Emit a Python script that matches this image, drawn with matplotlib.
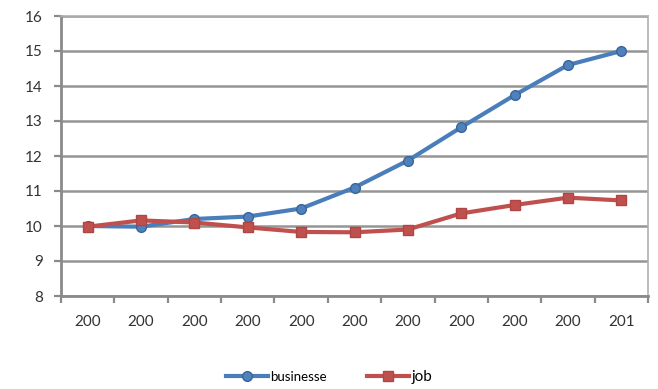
import matplotlib
matplotlib.use('Agg')
import matplotlib.pyplot as plt
import numpy as np

# data
labels = ['200', '200', '200', '200', '200', '200', '200', '200', '200', '200', '201']
businesse = [10.0, 9.98, 10.2, 10.27, 10.5, 11.1, 11.87, 12.82, 13.74, 14.6, 15.0]
job = [9.98, 10.16, 10.1, 9.96, 9.83, 9.82, 9.9, 10.36, 10.6, 10.81, 10.73]

plt.rcParams['font.family'] = ['Lato', 'DejaVu Sans']

fig = plt.figure(figsize=(6.58, 3.89), dpi=100)
ax = fig.add_axes([61/658, 1-296/389, 587/658, 280/389])

x = np.arange(len(labels))
ax.plot(x, businesse, color='#4A7EBB', lw=3, marker='o', ms=7,
        mfc='#4F81BD', mec='#3A6598', label='businesse', zorder=3)
ax.plot(x, job, color='#C0504D', lw=3, marker='s', ms=7,
        mfc='#C0504D', mec='#B04643', label='job', zorder=3)

ax.set_xlim(-0.5, len(labels)-0.5)
ax.set_ylim(8, 16)
ax.set_yticks(range(8, 17))
ax.yaxis.grid(True, color='#959595', lw=1.8)
ax.set_axisbelow(True)

ax.set_xticks(x)
ax.set_xticklabels(labels)
ax.set_xticks(np.arange(-0.5, len(labels), 1), minor=True)
ax.tick_params(axis='x', which='major', length=0, pad=14, labelsize=11, labelcolor='#333333')
ax.tick_params(axis='x', which='minor', length=5, width=1.6, color='#8a8a8a')
ax.tick_params(axis='y', length=5, width=1.6, color='#8a8a8a', pad=8,
               labelsize=11, labelcolor='#333333')

for s in ['left', 'bottom']:
    ax.spines[s].set_color('#8a8a8a')
    ax.spines[s].set_linewidth(2)
for s in ['right', 'top']:
    ax.spines[s].set_color('#b0b0b0')
    ax.spines[s].set_linewidth(1.2)

leg = fig.legend(loc='center', bbox_to_anchor=(0.5, 1-377/389), ncol=2, frameon=False,
                 fontsize=9.5, handlelength=3.2, columnspacing=3, handletextpad=0.2)
leg.get_texts()[1].set_fontsize(11)

fig.savefig('out.png', dpi=100)
